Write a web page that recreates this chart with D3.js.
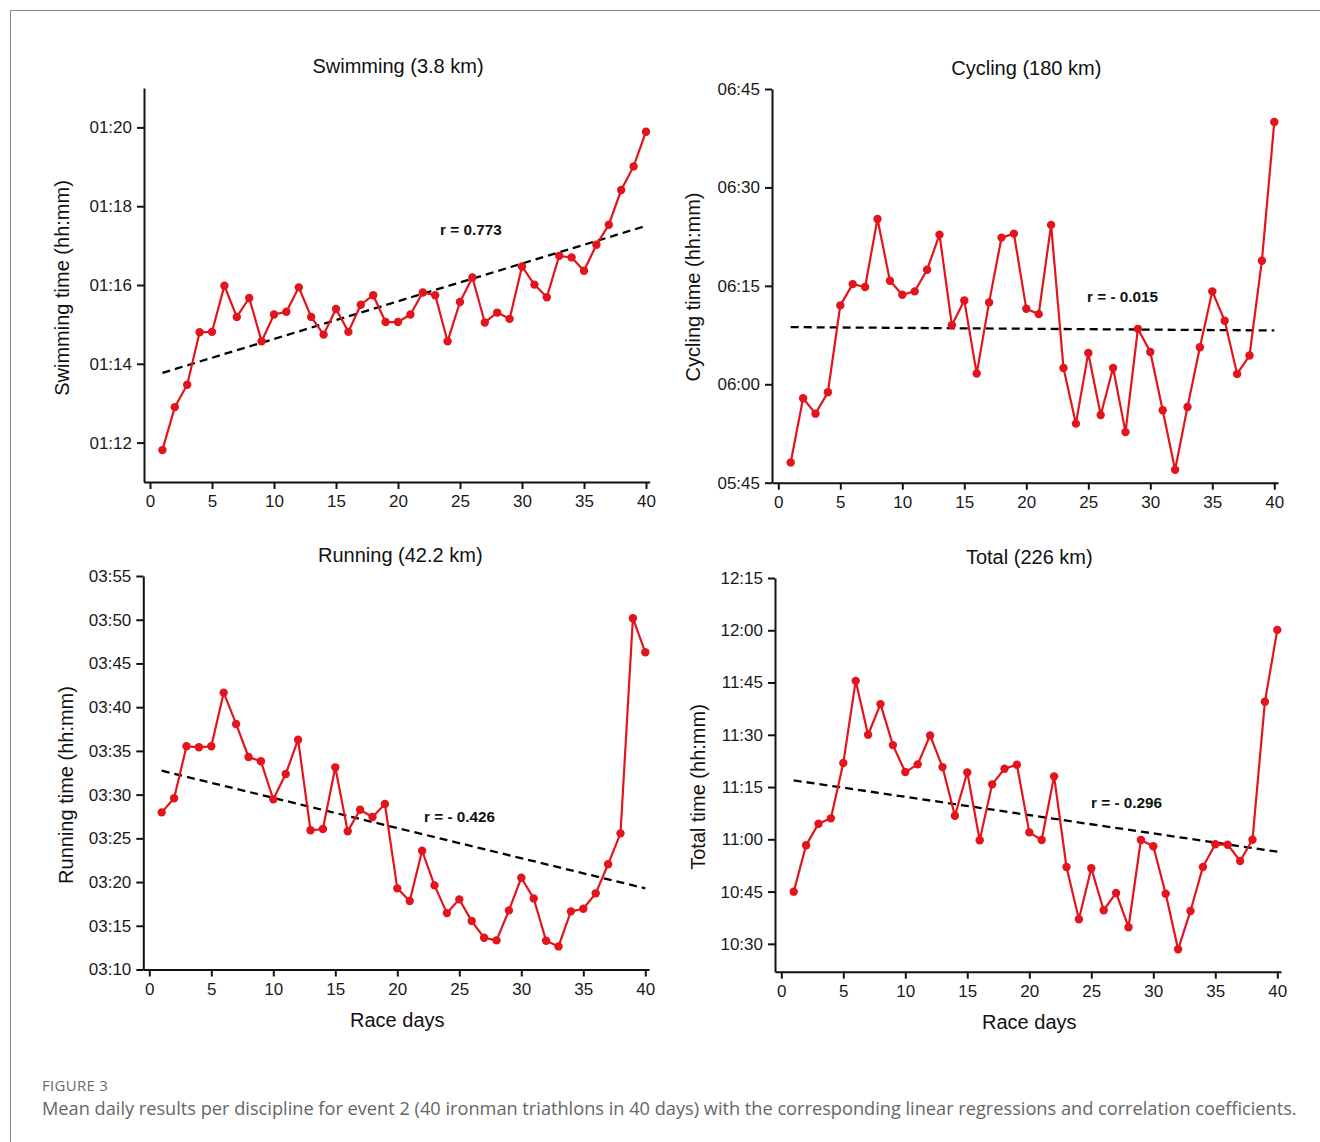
<!DOCTYPE html>
<html>
<head>
<meta charset="utf-8">
<script src="https://cdn.jsdelivr.net/npm/d3@7"></script>
<style>
  html, body { margin: 0; padding: 0; background: #fff; }
  svg { display: block; }
</style>
</head>
<body>
<svg id="chart" width="1320" height="1142"></svg>
<script>
// ---------------- data ----------------
const days = [1,2,3,4,5,6,7,8,9,10,11,12,13,14,15,16,17,18,19,20,21,22,23,24,25,26,27,28,29,30,31,32,33,34,35,36,37,38,39,40];
const xTicks = [0, 5, 10, 15, 20, 25, 30, 35, 40];

// values in minutes
const swimming = [71.81, 72.90, 73.47, 74.80, 74.81, 75.98, 75.19, 75.67, 74.57, 75.25,
  75.32, 75.94, 75.19, 74.74, 75.39, 74.81, 75.50, 75.74, 75.06, 75.06,
  75.25, 75.81, 75.74, 74.57, 75.57, 76.19, 75.05, 75.30, 75.14, 76.47,
  76.01, 75.69, 76.74, 76.70, 76.36, 77.02, 77.53, 78.41, 79.01, 79.89];
const cycling = [348.09, 357.86, 355.52, 358.78, 372.02, 375.27, 374.82, 385.20, 375.78, 373.64,
  374.16, 377.46, 382.81, 369.01, 372.78, 361.63, 372.48, 382.35, 382.96, 371.50,
  370.69, 384.29, 362.49, 354.00, 364.78, 355.31, 362.49, 352.71, 368.45, 364.93,
  356.03, 346.97, 356.54, 365.65, 374.16, 369.67, 361.58, 364.38, 378.83, 399.97];
const running = [207.97, 209.58, 215.53, 215.41, 215.53, 221.66, 218.08, 214.30, 213.81, 209.46,
  212.36, 216.28, 205.92, 206.06, 213.12, 205.80, 208.27, 207.44, 208.92, 199.28,
  197.83, 203.58, 199.62, 196.45, 198.02, 195.54, 193.63, 193.33, 196.76, 200.49,
  198.13, 193.28, 192.64, 196.65, 196.95, 198.71, 202.03, 205.57, 230.17, 226.28];
const total = [644.97, 658.28, 664.47, 666.02, 681.88, 705.48, 690.00, 698.80, 687.04, 679.30,
  681.51, 689.82, 680.73, 666.77, 679.21, 659.71, 675.77, 680.25, 681.39, 662.00,
  659.80, 678.07, 652.06, 637.06, 651.68, 639.64, 644.60, 634.76, 659.80, 657.99,
  644.40, 628.45, 639.44, 652.06, 658.57, 658.45, 653.78, 659.89, 699.46, 720.11];

// regression line end values (day 1, day 40)
const trendDays = [1, 40];
const swimTrend = [73.77, 77.50];
const cycleTrend = [368.71, 368.20];
const runTrend = [212.73, 199.28];
const totalTrend = [676.92, 656.44];

// y ticks (minutes)
const swimTicks = [72, 74, 76, 78, 80];
const cycleTicks = [345, 360, 375, 390, 405];
const runTicks = [190, 195, 200, 205, 210, 215, 220, 225, 230, 235];
const totalTicks = [630, 645, 660, 675, 690, 705, 720, 735];

const titles = ["Swimming (3.8 km)", "Cycling (180 km)", "Running (42.2 km)", "Total (226 km)"];
const yLabels = ["Swimming time (hh:mm)", "Cycling time (hh:mm)", "Running time (hh:mm)", "Total time (hh:mm)"];
const rLabels = ["r = 0.773", "r = - 0.015", "r = - 0.426", "r = - 0.296"];
const xLabel = "Race days";
const figLabel = "FIGURE 3";
const caption = "Mean daily results per discipline for event 2 (40 ironman triathlons in 40 days) with the corresponding linear regressions and correlation coefficients.";

// ---------------- layout ----------------
const panels = [
  { values: swimming, trend: swimTrend, ticks: swimTicks, yDomain: [71, 81],
    axisX: 144, x0: 150, top: 88, bottom: 482, titleY: 73, titleDx: 0, yLabX: 62, yLabY: 288,
    rX: 440, rY: 235, xLab: false },
  { values: cycling, trend: cycleTrend, ticks: cycleTicks, yDomain: [345, 405],
    axisX: 772, x0: 778.3, top: 89, bottom: 482.7, titleY: 75, titleDx: 0, yLabX: 693, yLabY: 287,
    rX: 1087, rY: 302, xLab: false },
  { values: running, trend: runTrend, ticks: runTicks, yDomain: [190, 235],
    axisX: 143.3, x0: 149.3, top: 576, bottom: 969.5, titleY: 562, titleDx: 3, yLabX: 66, yLabY: 785,
    rX: 424, rY: 822, xLab: true, xLabY: 1027 },
  { values: total, trend: totalTrend, ticks: totalTicks, yDomain: [622, 735],
    axisX: 775, x0: 781.3, top: 578, bottom: 971.7, titleY: 564, titleDx: 0, yLabX: 698, yLabY: 787,
    rX: 1091, rY: 808, xLab: true, xLabY: 1029 }
];
const pxPerDay = 12.4;
const FONT = '"Liberation Sans", Arial, sans-serif';
const RED = "#e3141b";

const fmt = m => {
  const h = Math.floor(m / 60), mm = Math.round(m - h * 60);
  return String(h).padStart(2, "0") + ":" + String(mm).padStart(2, "0");
};

const svg = d3.select("#chart");
svg.append("rect").attr("width", 1320).attr("height", 1142).attr("fill", "#fff");
// frame (top + left visible)
svg.append("rect").attr("x", 10.5).attr("y", 10.5).attr("width", 1330).attr("height", 1160)
  .attr("fill", "none").attr("stroke", "#8a8a8a").attr("stroke-width", 1);

panels.forEach((p, i) => {
  const g = svg.append("g");
  const x = d3.scaleLinear()
    .domain([-0.5, 40.3])
    .range([p.x0 - 0.5 * pxPerDay, p.x0 + 40.3 * pxPerDay]);
  const y = d3.scaleLinear().domain(p.yDomain).range([p.bottom, p.top]);

  // x axis
  const xa = g.append("g").attr("transform", `translate(0,${p.bottom})`)
    .call(d3.axisBottom(x).tickValues(xTicks).tickSize(7).tickSizeOuter(0).tickPadding(6));
  xa.attr("font-family", FONT).attr("font-size", 17);
  xa.selectAll("text").attr("fill", "#1a1a1a");
  xa.selectAll("path, line").attr("stroke", "#111").attr("stroke-width", 2);

  // y axis
  const ya = g.append("g").attr("transform", `translate(${p.axisX},0)`)
    .call(d3.axisLeft(y).tickValues(p.ticks).tickFormat(fmt).tickSize(7).tickSizeOuter(0).tickPadding(5));
  ya.attr("font-family", FONT).attr("font-size", 17);
  ya.selectAll("text").attr("fill", "#1a1a1a");
  ya.selectAll("path, line").attr("stroke", "#111").attr("stroke-width", 2);

  // title
  const cx = (x(0) + x(40)) / 2;
  g.append("text").attr("x", cx + p.titleDx).attr("y", p.titleY).attr("text-anchor", "middle")
    .attr("font-family", FONT).attr("font-size", 20).attr("fill", "#111").text(titles[i]);

  // y label
  g.append("text").attr("transform", `translate(${p.yLabX + 7},${p.yLabY}) rotate(-90)`)
    .attr("text-anchor", "middle").attr("font-family", FONT).attr("font-size", 20)
    .attr("fill", "#111").text(yLabels[i]);

  // x label
  if (p.xLab) {
    g.append("text").attr("x", cx).attr("y", p.xLabY).attr("text-anchor", "middle")
      .attr("font-family", FONT).attr("font-size", 20).attr("fill", "#111").text(xLabel);
  }

  // trend line
  g.append("path")
    .datum(trendDays.map((d, k) => [d, p.trend[k]]))
    .attr("d", d3.line().x(d => x(d[0])).y(d => y(d[1])))
    .attr("fill", "none").attr("stroke", "#000").attr("stroke-width", 2.3)
    .attr("stroke-dasharray", "8,5");

  // data line
  const pts = days.map((d, k) => [d, p.values[k]]);
  g.append("path").datum(pts)
    .attr("d", d3.line().x(d => x(d[0])).y(d => y(d[1])))
    .attr("fill", "none").attr("stroke", RED).attr("stroke-width", 2.2);
  g.selectAll("circle.pt").data(pts).enter().append("circle")
    .attr("cx", d => x(d[0])).attr("cy", d => y(d[1])).attr("r", 4.2).attr("fill", RED);

  // r label
  g.append("text").attr("x", p.rX).attr("y", p.rY).attr("font-family", FONT)
    .attr("font-size", 15.3).attr("font-weight", "bold").attr("fill", "#111").text(rLabels[i]);
});

// caption
svg.append("text").attr("x", 42).attr("y", 1091).attr("font-family", '"Open Sans", sans-serif')
  .attr("font-size", 15).attr("fill", "#6a6a6a").attr("letter-spacing", 0.3).text(figLabel);
svg.append("text").attr("x", 42).attr("y", 1115).attr("font-family", '"Open Sans", sans-serif')
  .attr("font-size", 18.2).attr("fill", "#666").text(caption);
</script>
</body>
</html>
